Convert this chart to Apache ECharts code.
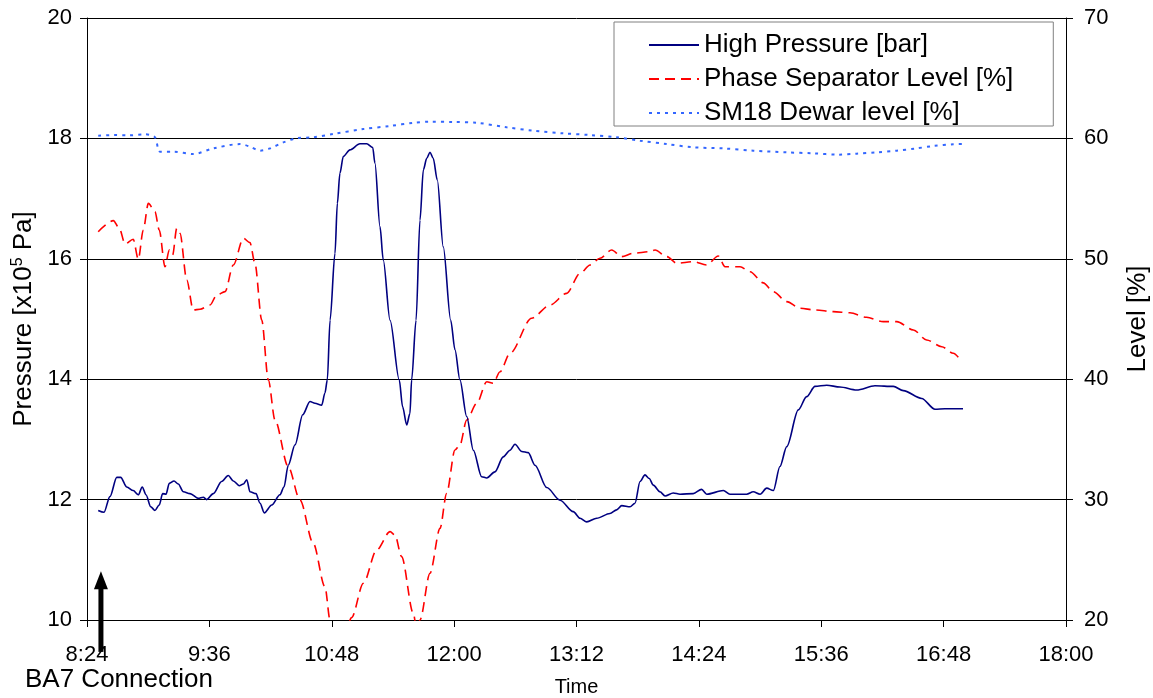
<!DOCTYPE html>
<html>
<head>
<meta charset="utf-8">
<title>BA7 connection</title>
<script src="https://cdn.jsdelivr.net/npm/echarts@6/dist/echarts.min.js"></script>
<style>
html, body { margin: 0; padding: 0; background: #fff; }
#main { width: 1153px; height: 698px; }
</style>
</head>
<body>
<div id="main"></div>
<script>
// all times are minutes since midnight (8:24 = 504, 18:00 = 1080)
var pressureTime = [510.6, 514.0, 517.5, 521.5, 523.8, 527.4, 531.2, 534.2, 536.5, 538.7, 541.5, 544.0, 546.5, 548.5, 550.5,
  552.4, 555.2, 557.7, 560.7, 564.6, 569.5, 572.4, 574.4, 578.3, 583.2, 587.1, 590.1, 593.6, 596.0, 598.0, 599.9, 603.4,
  605.8, 608.3, 612.7, 617.5, 619.9, 622.4, 626.4, 630.9, 635.2, 638.1, 642.1, 644.0, 645.4, 647.0, 649.9, 651.3, 652.8,
  654.8, 658.7, 664.6, 668.6, 672.1, 673.4, 676.4, 678.3, 682.3, 687.7, 689.7, 692.1, 694.0, 695.0, 697.6, 699.9, 701.9,
  703.9, 705.8, 707.7, 710.1, 713.6, 718.0, 720.5, 723.4, 727.4, 731.3, 736.2, 739.2, 744.0, 748.9, 752.9, 755.8, 759.8,
  763.6, 767.6, 774.5, 782.3, 790.1, 794.1, 798.0, 803.9, 811.7, 815.6, 818.6, 823.5, 826.4, 829.4, 832.3, 834.8, 837.2,
  841.1, 844.1, 848.9, 852.9, 860.7, 865.6, 868.6, 878.4, 882.3, 892.1, 896.0, 900.0, 903.9, 907.8, 911.7, 915.7, 922.5,
  927.4, 932.3, 939.2, 947.0, 956.8, 967.6, 978.4, 984.3, 995.1, 1002.9, 1008.8, 1019.4];
var pressureVal = [11.82, 11.79, 12.05, 12.37, 12.37, 12.21, 12.15, 12.08, 12.21, 12.08, 11.88, 11.82, 11.91, 12.10, 12.09,
  12.27, 12.31, 12.26, 12.13, 12.10, 12.02, 12.04, 12.00, 12.10, 12.30, 12.40, 12.31, 12.23, 12.26, 12.33, 12.13, 12.10,
  11.94, 11.78, 11.91, 12.08, 12.21, 12.57, 12.91, 13.41, 13.63, 13.60, 13.57, 13.77, 13.99, 14.98, 16.09, 16.92, 17.42,
  17.70, 17.81, 17.91, 17.91, 17.85, 17.59, 16.53, 15.98, 14.98, 13.99, 13.54, 13.24, 13.43, 13.99, 14.98, 16.64, 17.48,
  17.67, 17.77, 17.67, 17.31, 16.20, 14.98, 14.49, 13.99, 13.38, 12.82, 12.38, 12.36, 12.46, 12.71, 12.82, 12.92, 12.80,
  12.78, 12.57, 12.20, 11.99, 11.80, 11.69, 11.63, 11.69, 11.77, 11.83, 11.90, 11.88, 11.94, 12.30, 12.41, 12.35, 12.24,
  12.13, 12.06, 12.11, 12.09, 12.10, 12.17, 12.09, 12.15, 12.09, 12.09, 12.13, 12.09, 12.19, 12.15, 12.55, 12.88, 13.49,
  13.71, 13.88, 13.90, 13.87, 13.82, 13.89, 13.88, 13.81, 13.68, 13.50, 13.51, 13.51];

var separatorTime = [510.6, 519.5, 523.0, 526.4, 531.2, 534.2, 537.1, 540.1, 544.0, 546.5, 549.9, 552.4, 554.4, 556.8, 558.7,
  562.7, 566.5, 570.5, 576.4, 580.3, 585.2, 590.1, 596.0, 599.9, 602.8, 606.8, 610.7, 614.6, 622.4, 629.3, 637.1, 644.0,
  647.0, 652.8, 659.7, 666.6, 674.4, 682.3, 685.2, 689.1, 696.0, 698.0, 699.9, 705.8, 711.7, 715.6, 720.5, 723.4, 727.4,
  733.3, 739.2, 743.0, 747.0, 752.9, 765.6, 776.4, 786.2, 794.1, 800.0, 805.8, 812.7, 818.6, 825.4, 835.2, 838.2, 845.1,
  851.0, 860.7, 868.6, 875.4, 879.4, 888.2, 894.1, 901.9, 907.8, 915.7, 923.5, 932.3, 943.1, 952.9, 962.7, 972.5, 980.4,
  990.2, 998.0, 1006.9, 1013.7, 1018.6];
var separatorVal = [52.25, 53.17, 52.53, 51.23, 51.62, 49.96, 52.39, 54.60, 53.91, 52.39, 49.34, 50.73, 50.32, 52.53, 52.12,
  48.24, 45.75, 45.81, 46.16, 46.99, 47.27, 49.49, 51.70, 51.34, 49.63, 44.92, 39.93, 36.61, 32.73, 29.97, 26.37, 22.77,
  20.0, 16.6, 20.2, 23.05, 25.81, 27.34, 27.06, 25.26, 20.55, 19.2, 20.0, 23.88, 27.61, 30.52, 34.12, 34.53, 36.61,
  37.99, 39.79, 39.66, 40.62, 42.15, 45.06, 46.16, 47.13, 48.79, 49.49, 50.04, 50.73, 50.18, 50.46, 50.59, 50.73, 50.18,
  49.63, 49.76, 49.49, 50.23, 49.34, 49.34, 48.93, 48.0, 47.27, 46.44, 45.89, 45.75, 45.61, 45.52, 45.14, 44.78, 44.78,
  44.09, 43.26, 42.70, 42.15, 41.45];

var dewarTime = [510.6, 519.5, 528.3, 538.1, 544.0, 546.9, 554.8, 566.5, 578.3, 594.0, 599.9, 605.8, 611.7, 619.5, 627.4,
  637.1, 648.9, 666.6, 682.3, 696.0, 705.8, 719.5, 733.3, 750.9, 766.6, 784.2, 800.0, 815.6, 829.4, 845.1, 860.7, 878.4,
  896.0, 915.7, 931.3, 946.0, 956.8, 968.6, 980.4, 991.1, 1001.9, 1013.7, 1019.6];
var dewarVal = [60.22, 60.28, 60.25, 60.34, 60.09, 58.90, 58.90, 58.70, 59.17, 59.53, 59.31, 58.98, 59.17, 59.67, 60.01,
  60.09, 60.37, 60.78, 61.03, 61.30, 61.39, 61.36, 61.30, 60.92, 60.64, 60.42, 60.28, 60.09, 59.81, 59.53, 59.26, 59.17,
  58.98, 58.84, 58.76, 58.65, 58.73, 58.84, 58.98, 59.15, 59.37, 59.51, 59.53];

var seriesNames = ['High Pressure [bar]', 'Phase Separator Level [%]', 'SM18 Dewar level [%]'];

// BA7 connection arrow (time, pressure at tip / at foot)
var connectTime = 512.2;
var arrowTip = 10.81;
var arrowFoot = 9.47;

var font = '"Liberation Sans", Arial, sans-serif';

function pairs(t, v) {
  return t.map(function (x, i) { return [x, v[i]]; });
}

function clock(m) {
  var h = Math.floor(m / 60);
  var mm = Math.round(m - h * 60);
  return h + ':' + (mm < 10 ? '0' : '') + mm;
}

var chart = echarts.init(document.getElementById('main'));

chart.setOption({
  animation: false,
  backgroundColor: '#fff',
  grid: { left: 87, right: 87, top: 18, bottom: 78, outerBoundsMode: 'none', containLabel: false },
  legend: {
    orient: 'vertical',
    left: 614,
    top: 22,
    data: seriesNames,
    itemWidth: 50,
    itemHeight: 14,
    itemGap: 8,
    padding: [10, 40, 0, 34],
    borderColor: '#808080',
    borderWidth: 1,
    backgroundColor: '#fff',
    itemStyle: { opacity: 0 },
    textStyle: { fontFamily: font, fontSize: 26, color: '#000' }
  },
  xAxis: {
    type: 'value',
    min: 504,
    max: 1080,
    interval: 72,
    name: 'Time',
    nameLocation: 'middle',
    nameGap: 57,
    nameTextStyle: { fontFamily: font, fontSize: 20, color: '#000' },
    axisLine: { lineStyle: { color: '#000', width: 1 } },
    axisTick: { inside: false, length: 7, lineStyle: { color: '#000' } },
    axisLabel: { margin: 24, fontFamily: font, fontSize: 22, color: '#000', formatter: clock },
    splitLine: { show: false }
  },
  yAxis: [
    {
      type: 'value',
      min: 10,
      max: 20,
      interval: 2,
      name: 'Pressure [x10{sup|5} Pa]',
      nameLocation: 'middle',
      nameRotate: 90,
      nameGap: 49,
      nameTextStyle: {
        fontFamily: font, fontSize: 26, color: '#000',
        rich: { sup: { fontFamily: font, fontSize: 16, color: '#000', verticalAlign: 'bottom', padding: [0, 0, 12, 0] } }
      },
      axisLine: { show: true, lineStyle: { color: '#000', width: 1 } },
      axisTick: { show: true, inside: false, length: 7, lineStyle: { color: '#000' } },
      axisLabel: { margin: 15, fontFamily: font, fontSize: 22, color: '#000' },
      splitLine: { show: true, lineStyle: { color: '#000', width: 1 } }
    },
    {
      type: 'value',
      min: 20,
      max: 70,
      interval: 10,
      position: 'right',
      name: 'Level [%]',
      nameLocation: 'middle',
      nameRotate: 90,
      nameGap: 59,
      nameTextStyle: { fontFamily: font, fontSize: 26, color: '#000' },
      axisLine: { show: true, lineStyle: { color: '#000', width: 1 } },
      axisTick: { show: true, inside: false, length: 7, lineStyle: { color: '#000' } },
      axisLabel: { margin: 18, fontFamily: font, fontSize: 22, color: '#000' },
      splitLine: { show: false }
    }
  ],
  series: [
    {
      name: seriesNames[0],
      type: 'line',
      yAxisIndex: 0,
      data: pairs(pressureTime, pressureVal),
      symbol: 'none',
      smooth: 0.3,
      smoothMonotone: 'x',
      color: '#000080',
      lineStyle: { color: '#000080', width: 1.6 },
      z: 4
    },
    {
      name: seriesNames[1],
      type: 'line',
      yAxisIndex: 1,
      data: pairs(separatorTime, separatorVal),
      symbol: 'none',
      smooth: 0.3,
      smoothMonotone: 'x',
      color: '#ff0000',
      lineStyle: { color: '#ff0000', width: 1.6, type: [10, 6] },
      z: 3
    },
    {
      name: seriesNames[2],
      type: 'line',
      yAxisIndex: 1,
      data: pairs(dewarTime, dewarVal),
      symbol: 'none',
      smooth: 0.3,
      color: '#3366ff',
      lineStyle: { color: '#3366ff', width: 2, type: [3, 5] },
      z: 2
    }
  ]
});

// arrow and label for the BA7 connection, placed from data values
var tip = chart.convertToPixel({ xAxisIndex: 0, yAxisIndex: 0 }, [connectTime, arrowTip]);
var foot = chart.convertToPixel({ xAxisIndex: 0, yAxisIndex: 0 }, [connectTime, arrowFoot]);
var ax = tip[0];
chart.setOption({
  graphic: [
    {
      type: 'polygon',
      shape: { points: [[ax, tip[1]], [ax + 7, tip[1] + 18], [ax - 7, tip[1] + 18]] },
      style: { fill: '#000' },
      z: 10
    },
    {
      type: 'rect',
      shape: { x: ax - 2.5, y: tip[1] + 16, width: 5, height: foot[1] - tip[1] - 16 },
      style: { fill: '#000' },
      z: 10
    },
    {
      type: 'text',
      left: 25,
      top: 667,
      style: { text: 'BA7 Connection', fontFamily: font, fontSize: 26, fill: '#000' },
      z: 10
    }
  ]
});
</script>
</body>
</html>
